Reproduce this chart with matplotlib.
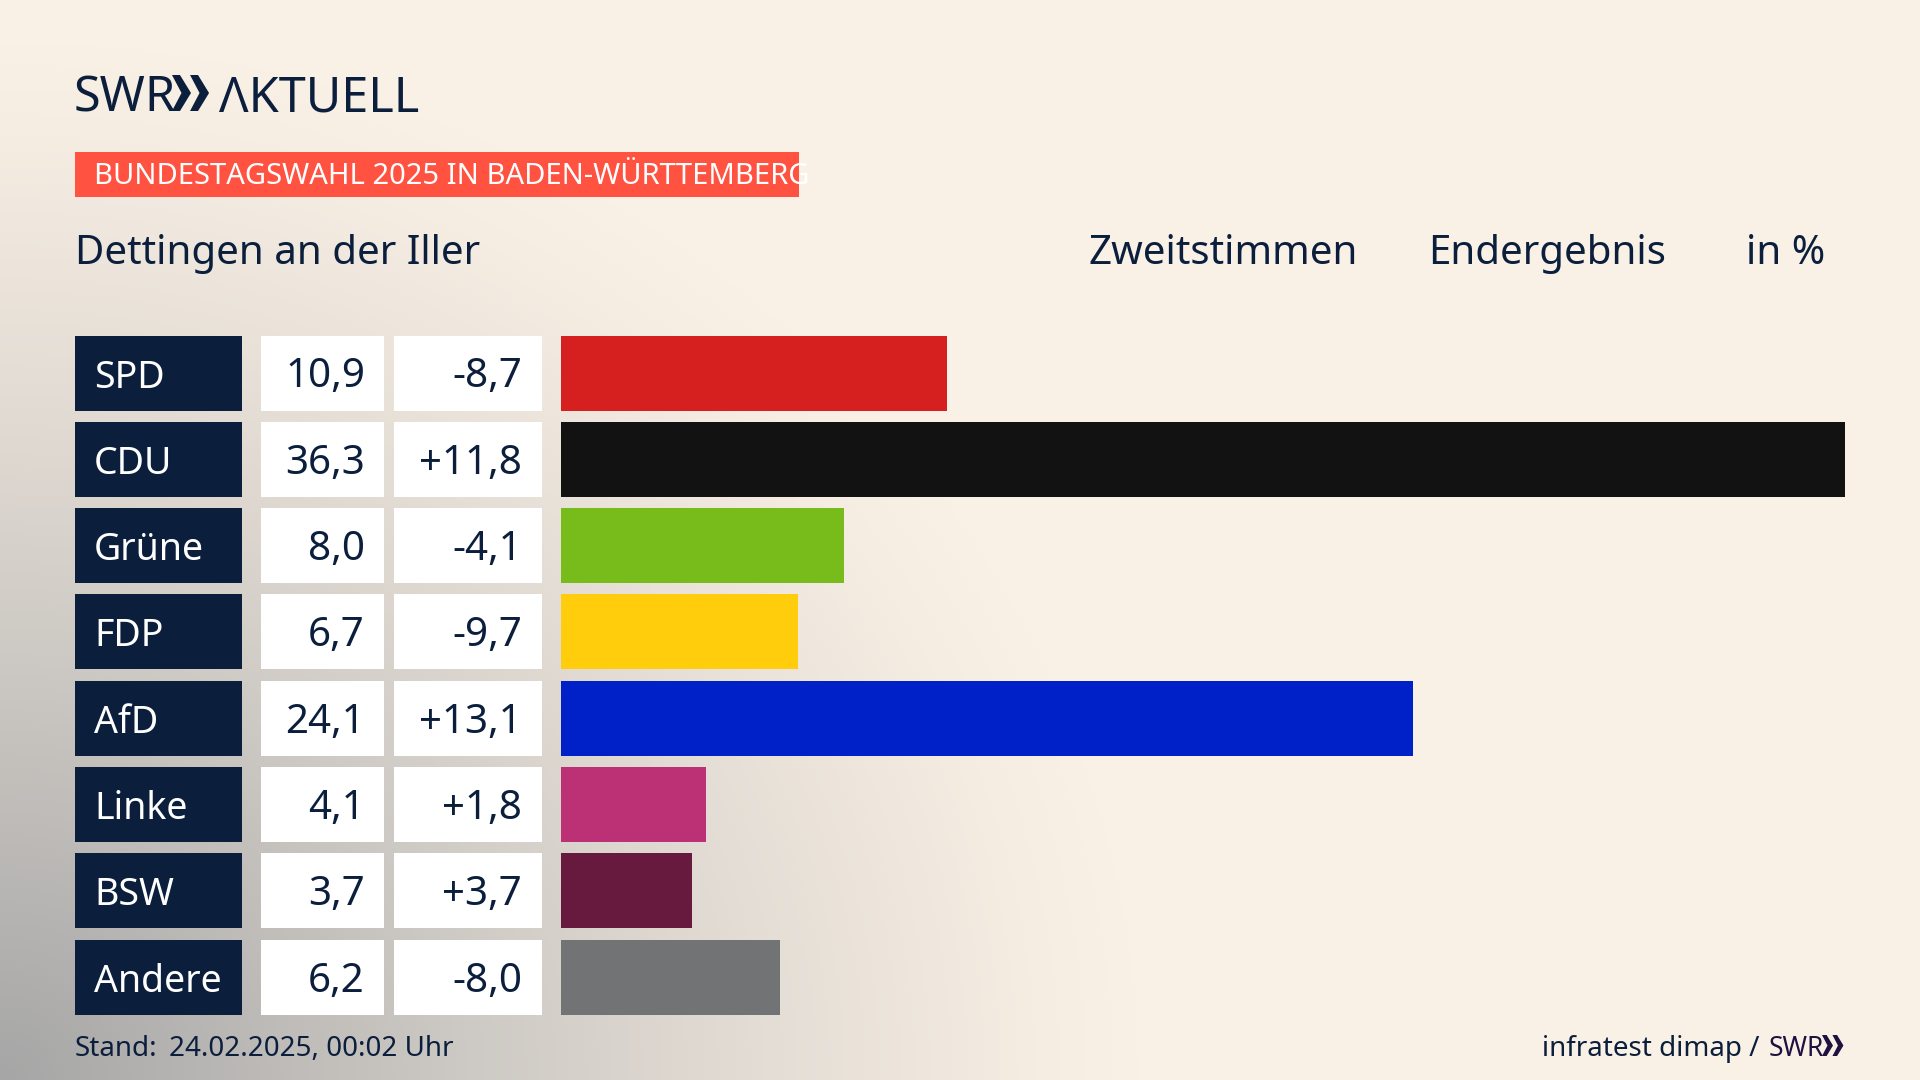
import numpy as np
import matplotlib
matplotlib.use("Agg")
import matplotlib.pyplot as plt
from matplotlib.patches import Rectangle, Polygon
from matplotlib.colors import LinearSegmentedColormap

plt.rcParams['font.family'] = ['Noto Sans', 'DejaVu Sans']

# Daten
parties = ["SPD", "CDU", "Grüne", "FDP", "AfD", "Linke", "BSW", "Andere"]
shares = [10.9, 36.3, 8.0, 6.7, 24.1, 4.1, 3.7, 6.2]
changes = [-8.7, 11.8, -4.1, -9.7, 13.1, 1.8, 3.7, -8.0]
colors = ["#D61F1F", "#121212", "#78BC1B", "#FFCD0B", "#0021C7", "#BC3175", "#671A3E", "#717375"]

NAVY = "#0B1F3D"
TAG = "#FF5240"
CREAM = "#FAF1E6"

ROW_TOP = 335.5
ROW_STEP = 86.3
ROW_H = 75


def de(v, sign=False):
    s = f"{v:+.1f}" if sign else f"{v:.1f}"
    return s.replace(".", ",")


def chevrons(ax, x, top, h, w, color):
    # SWR-Doppelpfeil
    for dx in (0, w * 0.95):
        ax.add_patch(Polygon([
            (x + dx, top), (x + dx + w * 0.42, top), (x + dx + w, top + h / 2),
            (x + dx + w * 0.42, top + h), (x + dx, top + h), (x + dx + w * 0.5, top + h / 2),
        ], closed=True, color=color, lw=0))


fig = plt.figure(figsize=(19.2, 10.8), dpi=100)

# Hintergrund + Layout in Pixelkoordinaten
ax = fig.add_axes([0, 0, 1, 1])
ax.set_xlim(0, 1920)
ax.set_ylim(1080, 0)
ax.axis("off")

yy, xx = np.mgrid[0:1080:270j, 0:1920:480j]
d = np.sqrt((xx / 1150) ** 2 + ((1080 - yy) / 1050) ** 2)
t = np.clip(1 - d, 0, 1) ** 1.2
cmap = LinearSegmentedColormap.from_list("bg", [CREAM, "#A6A6A6"])
ax.imshow(t, extent=(0, 1920, 1080, 0), cmap=cmap, vmin=0, vmax=1, aspect="auto", zorder=0)

# Kopf
ax.text(74, 111, "SWR", fontsize=35, fontweight="bold", color=NAVY, va="baseline")
chevrons(ax, 172, 75, 36, 19, NAVY)
ax.text(219, 111, "ΛKTUELL", fontsize=35, fontweight="bold", color=NAVY, va="baseline")

ax.add_patch(Rectangle((75, 152), 724, 45, color=TAG, lw=0))
ax.text(94, 184, "BUNDESTAGSWAHL 2025 IN BADEN-WÜRTTEMBERG", fontsize=21, fontweight="bold",
        color="white", va="baseline")

ax.text(75, 264, "Dettingen an der Iller", fontsize=29, color=NAVY, va="baseline")
ax.text(1088, 264, "Zweitstimmen", fontsize=29, color=NAVY, va="baseline")
ax.text(1428, 264, "Endergebnis", fontsize=29, color=NAVY, va="baseline")
ax.text(1825, 264, "in %", fontsize=29, color=NAVY, va="baseline", ha="right")

# Tabelle links
for i, party in enumerate(parties):
    top = ROW_TOP + i * ROW_STEP
    base = top + 52
    ax.add_patch(Rectangle((75, top), 167, ROW_H, color=NAVY, lw=0))
    ax.add_patch(Rectangle((261, top), 123, ROW_H, color="white", lw=0))
    ax.add_patch(Rectangle((394, top), 148, ROW_H, color="white", lw=0))
    ax.text(94, base, party, fontsize=27, color="white", va="baseline")
    ax.text(365, base, de(shares[i]), fontsize=29, color=NAVY, va="baseline", ha="right")
    ax.text(522, base, de(changes[i], sign=True), fontsize=29, color=NAVY, va="baseline", ha="right")

# Fuss
ax.text(75, 1056, "Stand:", fontsize=20, fontweight="bold", color=NAVY, va="baseline")
ax.text(169, 1056, "24.02.2025, 00:02 Uhr", fontsize=20, color=NAVY, va="baseline")
ax.text(1760, 1056, "infratest dimap /", fontsize=20, color=NAVY, va="baseline", ha="right")
ax.text(1769, 1056, "SWR", fontsize=19, fontweight="bold", color="#1E1240", va="baseline")
chevrons(ax, 1822, 1035, 21, 11, "#1E1240")

# Balken
H, W = 1080, 1920
bar_ax = fig.add_axes([561 / W, 0, (1845 - 561) / W, 1], facecolor="none")
bar_ax.set_xlim(0, max(shares))
# y-Skala so, dass Zeile i bei ROW_TOP + i * ROW_STEP + ROW_H / 2 liegt
y0 = -(ROW_TOP + ROW_H / 2) / ROW_STEP
bar_ax.set_ylim(y0 + H / ROW_STEP, y0)
bar_ax.barh(range(len(parties)), shares, height=ROW_H / ROW_STEP, color=colors, lw=0)
bar_ax.axis("off")

plt.savefig("out.png", dpi=100)
plt.close()
